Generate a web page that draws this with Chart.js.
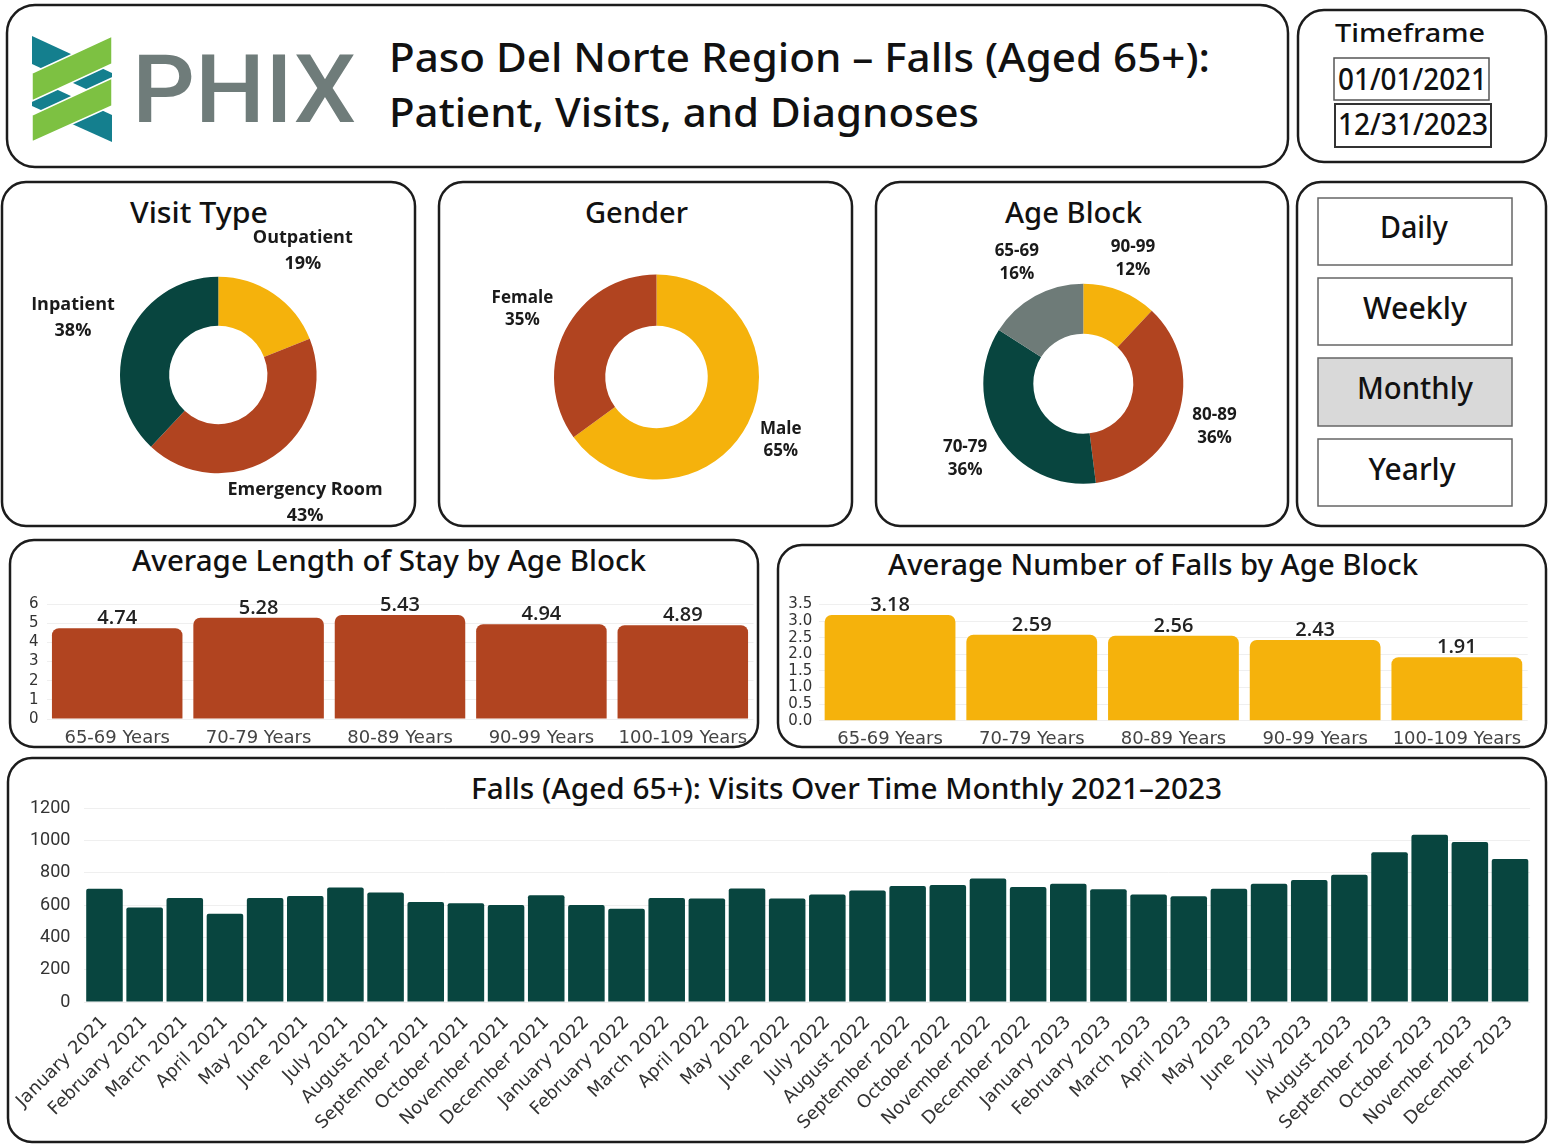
<!DOCTYPE html>
<html>
<head>
<meta charset="utf-8">
<script src="https://cdn.jsdelivr.net/npm/chart.js@4.4.1/dist/chart.umd.min.js"></script>
<style>
  body { margin: 0; background: #fff; width: 1551px; height: 1145px; position: relative; overflow: hidden; }
  #frame { position: absolute; left: 0; top: 0; }
  canvas { position: absolute; }
  .t { font-family: "Noto Sans", sans-serif; font-weight: 500; fill: #111; }
</style>
</head>
<body>
<svg id="frame" width="1551" height="1145">
  <!-- panels -->
  <g fill="#fff" stroke="#1c1c1c" stroke-width="2.5">
    <rect x="7" y="5" width="1281" height="162" rx="28"/>
    <rect x="1298" y="10" width="248" height="152" rx="26"/>
    <rect x="2" y="182" width="413" height="344" rx="24"/>
    <rect x="439" y="182" width="413" height="344" rx="24"/>
    <rect x="876" y="182" width="412" height="344" rx="24"/>
    <rect x="1297" y="182" width="249" height="344" rx="24"/>
    <rect x="10" y="540" width="748" height="207" rx="24"/>
    <rect x="778" y="545" width="768" height="202" rx="24"/>
    <rect x="8" y="758" width="1538" height="384" rx="24"/>
  </g>

  <!-- logo -->
  <g transform="translate(32,36)">
    <polygon points="0,0 0,28 80,65 80,37" fill="#147f8e"/>
    <polygon points="0,42 0,70 80,106 80,79" fill="#147f8e"/>
    <polygon points="80,0 80,28 0,65 0,37" fill="#7dc142" stroke="#fff" stroke-width="1.5"/>
    <polygon points="80,42 80,70 0,106 0,79" fill="#7dc142" stroke="#fff" stroke-width="1.5"/>
  </g>
  <text x="132" y="122" font-family="Roboto, sans-serif" font-weight="500" font-size="94" fill="#6f7c7a" textLength="224" lengthAdjust="spacingAndGlyphs">PHIX</text>

  <text class="t" x="389" y="72" font-size="40" textLength="821" lengthAdjust="spacingAndGlyphs">Paso Del Norte Region – Falls (Aged 65+):</text>
  <text class="t" x="389" y="127" font-size="40" textLength="590" lengthAdjust="spacingAndGlyphs">Patient, Visits, and Diagnoses</text>

  <!-- timeframe -->
  <text class="t" x="1335" y="42" font-size="26" textLength="150" lengthAdjust="spacingAndGlyphs">Timeframe</text>
  <rect x="1334" y="58" width="155" height="42" fill="#fff" stroke="#555" stroke-width="1.5"/>
  <rect x="1335" y="104" width="156" height="43" fill="#fff" stroke="#333" stroke-width="2"/>
  <text class="t" x="1338" y="90" font-size="30" textLength="149" lengthAdjust="spacingAndGlyphs">01/01/2021</text>
  <text class="t" x="1338" y="135" font-size="30" textLength="150" lengthAdjust="spacingAndGlyphs">12/31/2023</text>

  <!-- period buttons -->
  <g stroke="#666" stroke-width="1.5">
    <rect x="1318" y="198" width="194" height="67" fill="#fff"/>
    <rect x="1318" y="278" width="194" height="67" fill="#fff"/>
    <rect x="1318" y="358" width="194" height="68" fill="#d9d9d9"/>
    <rect x="1318" y="439" width="194" height="67" fill="#fff"/>
  </g>
  <text class="t" x="1414" y="238" font-size="30" text-anchor="middle" textLength="68" lengthAdjust="spacingAndGlyphs">Daily</text>
  <text class="t" x="1415" y="319" font-size="30" text-anchor="middle" textLength="104" lengthAdjust="spacingAndGlyphs">Weekly</text>
  <text class="t" x="1415" y="399" font-size="30" text-anchor="middle" textLength="116" lengthAdjust="spacingAndGlyphs">Monthly</text>
  <text class="t" x="1412" y="480" font-size="30" text-anchor="middle" textLength="87" lengthAdjust="spacingAndGlyphs">Yearly</text>

  <!-- panel titles -->
  <text class="t" x="130" y="223" font-size="28" textLength="138" lengthAdjust="spacingAndGlyphs">Visit Type</text>
  <text class="t" x="585" y="223" font-size="28" textLength="103" lengthAdjust="spacingAndGlyphs">Gender</text>
  <text class="t" x="1005" y="223" font-size="28" textLength="137" lengthAdjust="spacingAndGlyphs">Age Block</text>
  <text class="t" x="132" y="571" font-size="28" textLength="514" lengthAdjust="spacingAndGlyphs">Average Length of Stay by Age Block</text>
  <text class="t" x="888" y="575" font-size="28" textLength="530" lengthAdjust="spacingAndGlyphs">Average Number of Falls by Age Block</text>
  <text class="t" x="471" y="799" font-size="28" textLength="751" lengthAdjust="spacingAndGlyphs">Falls (Aged 65+): Visits Over Time Monthly 2021–2023</text>
</svg>

<canvas id="visitChart" width="408" height="338" style="left:4px;top:186px"></canvas>
<canvas id="genderChart" width="409" height="338" style="left:441px;top:186px"></canvas>
<canvas id="ageChart" width="408" height="338" style="left:878px;top:186px"></canvas>
<canvas id="stayChart" width="744" height="160" style="left:12px;top:584px"></canvas>
<canvas id="fallsChart" width="752" height="158" style="left:782px;top:588px"></canvas>
<canvas id="monthlyChart" width="1532" height="353" style="left:10px;top:785px"></canvas>

<script>
// donut data
const visitLabels = ['Outpatient', 'Emergency Room', 'Inpatient']
const visitValues = [19, 43, 38]
const genderLabels = ['Male', 'Female']
const genderValues = [65, 35]
const ageLabels = ['90-99', '80-89', '70-79', '65-69']
const ageValues = [12, 36, 36, 16]

// bar charts by age block
const ageBlocks = ['65-69 Years', '70-79 Years', '80-89 Years', '90-99 Years', '100-109 Years']
const stayValues = [4.74, 5.28, 5.43, 4.94, 4.89]
const fallsValues = [3.18, 2.59, 2.56, 2.43, 1.91]

// monthly visits
const months = [
  'January 2021', 'February 2021', 'March 2021', 'April 2021', 'May 2021', 'June 2021',
  'July 2021', 'August 2021', 'September 2021', 'October 2021', 'November 2021', 'December 2021',
  'January 2022', 'February 2022', 'March 2022', 'April 2022', 'May 2022', 'June 2022',
  'July 2022', 'August 2022', 'September 2022', 'October 2022', 'November 2022', 'December 2022',
  'January 2023', 'February 2023', 'March 2023', 'April 2023', 'May 2023', 'June 2023',
  'July 2023', 'August 2023', 'September 2023', 'October 2023', 'November 2023', 'December 2023'
]
const monthlyVisits = [
  700, 585, 643, 546, 643, 656, 708, 677, 619, 611, 600, 660,
  600, 577, 643, 640, 702, 640, 665, 690, 718, 723, 764, 712,
  731, 698, 665, 654, 700, 731, 754, 787, 926, 1034, 989, 885
]

const TEAL = '#08453f'
const RUST = '#b14420'
const GOLD = '#f5b20c'
const GRAY = '#6e7b78'

Chart.defaults.font.family = '"DejaVu Sans", sans-serif'
Chart.defaults.animation = false
Chart.defaults.plugins.legend.display = false
Chart.defaults.plugins.tooltip.enabled = false

// name + percent written outside each slice
const outsideLabels = {
  id: 'outsideLabels',
  afterDatasetsDraw(chart, args, opts) {
    const ctx = chart.ctx
    const values = chart.data.datasets[0].data
    const total = values.reduce((a, b) => a + b, 0)
    ctx.save()
    ctx.font = `700 ${opts.size}px "Open Sans", sans-serif`
    ctx.fillStyle = '#1a1a1a'
    ctx.textAlign = 'center'
    ctx.textBaseline = 'middle'
    chart.getDatasetMeta(0).data.forEach((arc, i) => {
      const mid = (arc.startAngle + arc.endAngle) / 2
      const r = arc.outerRadius + opts.offsets[i]
      const x = arc.x + Math.cos(mid) * r
      const y = arc.y + Math.sin(mid) * r
      ctx.fillText(chart.data.labels[i], x, y - opts.gap / 2)
      ctx.fillText(Math.round(values[i] / total * 100) + '%', x, y + opts.gap / 2)
    })
    ctx.restore()
  }
}

// value written above each bar
const valueLabels = {
  id: 'valueLabels',
  afterDatasetsDraw(chart) {
    const ctx = chart.ctx
    const values = chart.data.datasets[0].data
    ctx.save()
    ctx.font = '600 20px "Open Sans", sans-serif'
    ctx.fillStyle = '#222'
    ctx.textAlign = 'center'
    ctx.textBaseline = 'alphabetic'
    chart.getDatasetMeta(0).data.forEach((bar, i) => {
      ctx.fillText(values[i].toFixed(2), bar.x, bar.y - 4)
    })
    ctx.restore()
  }
}

function donut(id, labels, values, colors, padding, labelOpts) {
  new Chart(document.getElementById(id), {
    type: 'doughnut',
    data: {
      labels: labels,
      datasets: [{ data: values, backgroundColor: colors, borderWidth: 0 }]
    },
    options: {
      responsive: false,
      cutout: '50%',
      layout: { padding: padding },
      plugins: { outsideLabels: labelOpts }
    },
    plugins: [outsideLabels]
  })
}

donut('visitChart', visitLabels, visitValues, [GOLD, RUST, TEAL],
  { left: 116, right: 95.4, top: 90.7, bottom: 50.7 },
  { offsets: [52, 56, 58], gap: 26, size: 18 })
donut('genderChart', genderLabels, genderValues, [GOLD, RUST],
  { left: 113, right: 91, top: 88.5, bottom: 44.5 },
  { offsets: [37, 48], gap: 22, size: 17 })
donut('ageChart', ageLabels, ageValues, [GOLD, RUST, TEAL, GRAY],
  { left: 105.3, right: 102.7, top: 97.7, bottom: 40.3 },
  { offsets: [35, 38, 40, 38], gap: 23, size: 17 })

function ageBar(id, values, color, yMax, yStep, yDecimals, yWidth, xHeight, padding, tickPad) {
  new Chart(document.getElementById(id), {
    type: 'bar',
    data: {
      labels: ageBlocks,
      datasets: [{
        data: values,
        backgroundColor: color,
        categoryPercentage: 1,
        barPercentage: 0.923,
        borderRadius: { topLeft: 7, topRight: 7 },
        borderSkipped: 'bottom'
      }]
    },
    options: {
      responsive: false,
      layout: { padding: padding },
      scales: {
        x: {
          grid: { display: false },
          border: { display: false },
          ticks: { color: '#444', font: { size: 18, lineHeight: 1 }, padding: 2, maxRotation: 0 },
          afterFit(s) { s.height = xHeight }
        },
        y: {
          min: 0,
          max: yMax,
          grid: { color: '#efefef', drawTicks: false },
          border: { display: false },
          ticks: {
            stepSize: yStep,
            autoSkip: false,
            color: '#333',
            font: { size: 15, lineHeight: 1 },
            padding: tickPad,
            callback: (v) => v.toFixed(yDecimals)
          },
          afterFit(s) { s.width = yWidth }
        }
      }
    },
    plugins: [valueLabels]
  })
}

ageBar('stayChart', stayValues, RUST, 6, 1, 0, 34.5, 25, { top: 20, right: 2.5 }, 8)
ageBar('fallsChart', fallsValues, GOLD, 3.5, 0.5, 1, 37.2, 25.3, { top: 16.4, right: 6.3 }, 7)

// top of plot comes from the y tick padding (14 + half a label = 23px)
new Chart(document.getElementById('monthlyChart'), {
  type: 'bar',
  data: {
    labels: months,
    datasets: [{
      data: monthlyVisits,
      backgroundColor: TEAL,
      categoryPercentage: 1,
      barPercentage: 0.91,
      borderRadius: { topLeft: 2, topRight: 2 },
      borderSkipped: 'bottom'
    }]
  },
  options: {
    responsive: false,
    layout: { padding: { top: 0, right: 11.9 } },
    scales: {
      x: {
        grid: { display: false },
        border: { display: false },
        ticks: { autoSkip: false, minRotation: 45, maxRotation: 45, color: '#333', font: { size: 18 }, padding: 2 },
        afterFit(s) { s.height = 136 }
      },
      y: {
        min: 0,
        max: 1200,
        grid: { color: '#efefef', drawTicks: false },
        border: { display: false },
        ticks: {
          stepSize: 200,
          color: '#333',
          font: { family: 'Roboto, sans-serif', size: 18, lineHeight: 1 },
          padding: 14,
          callback: (v) => String(v)
        },
        afterFit(s) { s.width = 74.4 }
      }
    }
  }
})
</script>
</body>
</html>
